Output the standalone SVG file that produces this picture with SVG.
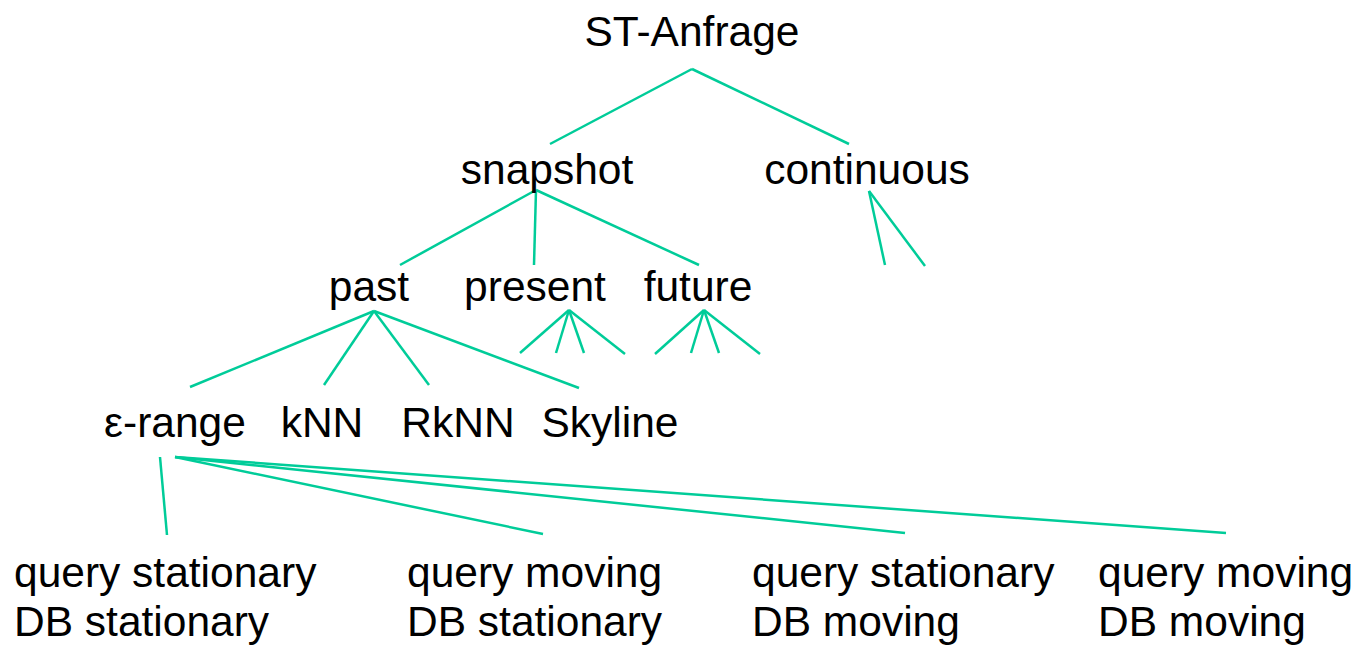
<svg xmlns="http://www.w3.org/2000/svg" width="1354" height="645" viewBox="0 0 1354 645">
<style>
text{font-family:"Liberation Sans",Arial,sans-serif;font-size:42.5px;fill:#000}
.c{text-anchor:middle}
#connectors line{stroke:#00CC99;stroke-width:2.5;fill:none}
</style>
<rect width="1354" height="645" fill="#fff"/>
<g id="connectors">
<line x1="692" y1="69" x2="550" y2="144"/>
<line x1="692" y1="69" x2="849" y2="144"/>
<line x1="536" y1="190" x2="400" y2="265"/>
<line x1="536" y1="190" x2="534" y2="265"/>
<line x1="536" y1="190" x2="699" y2="265"/>
<line x1="869" y1="191" x2="885" y2="265"/>
<line x1="869" y1="191" x2="925" y2="266"/>
<line x1="374" y1="311" x2="190" y2="387"/>
<line x1="374" y1="311" x2="324" y2="385"/>
<line x1="374" y1="311" x2="429" y2="385"/>
<line x1="374" y1="311" x2="579" y2="388"/>
<line x1="569" y1="310" x2="520" y2="353"/>
<line x1="569" y1="310" x2="556" y2="353"/>
<line x1="569" y1="310" x2="584" y2="353"/>
<line x1="569" y1="310" x2="625" y2="354"/>
<line x1="704" y1="310" x2="655" y2="354"/>
<line x1="704" y1="310" x2="691" y2="353"/>
<line x1="704" y1="310" x2="719" y2="353"/>
<line x1="704" y1="310" x2="760" y2="354"/>
<line x1="160" y1="457" x2="167" y2="535"/>
<line x1="175" y1="457" x2="543" y2="534"/>
<line x1="175" y1="457" x2="905" y2="533"/>
<line x1="175" y1="457" x2="1226" y2="533"/>
</g>
<g id="st-anfrage"><text class="c" x="692" y="46">ST-Anfrage</text></g>
<g id="snapshot"><text class="c" x="547" y="184">snapshot</text></g>
<g id="continuous"><text class="c" x="867" y="184">continuous</text></g>
<g id="past"><text class="c" x="369" y="301">past</text></g>
<g id="present"><text class="c" x="535" y="301">present</text></g>
<g id="future"><text class="c" x="698" y="301">future</text></g>
<g id="erange"><text class="c" x="175" y="437">ε-range</text></g>
<g id="knn"><text class="c" x="322" y="437">kNN</text></g>
<g id="rknn"><text class="c" x="458" y="437">RkNN</text></g>
<g id="skyline"><text class="c" x="610" y="437">Skyline</text></g>
<g id="qs-dbs"><text x="14" y="587">query stationary</text><text x="14" y="636">DB stationary</text></g>
<g id="qm-dbs"><text x="407" y="587">query moving</text><text x="407" y="636">DB stationary</text></g>
<g id="qs-dbm"><text x="752" y="587">query stationary</text><text x="752" y="636">DB moving</text></g>
<g id="qm-dbm"><text x="1098" y="587">query moving</text><text x="1098" y="636">DB moving</text></g>
</svg>
